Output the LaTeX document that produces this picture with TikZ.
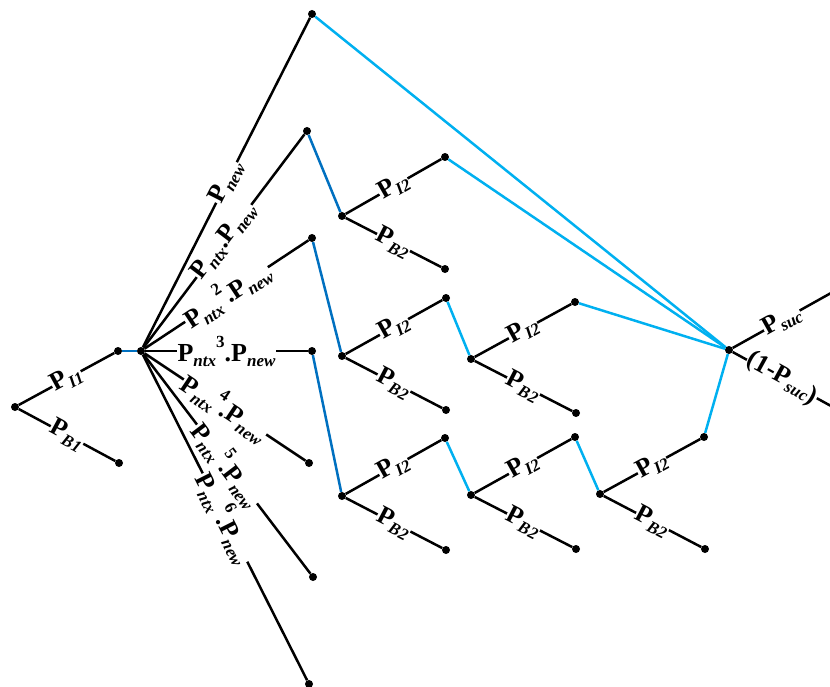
\documentclass[tikz,border=0pt]{standalone}
\usepackage{fontspec}
\setmainfont{Liberation Serif}
\definecolor{dblue}{HTML}{0070C0}
\definecolor{lblue}{HTML}{00B0F0}
\newcommand{\sbs}[1]{\raisebox{-5pt}{\fontsize{17}{18}\selectfont\bfseries\itshape #1}}
\newcommand{\sps}[1]{\raisebox{14pt}{\fontsize{17}{18}\selectfont\bfseries #1}}
\begin{document}
\begin{tikzpicture}[x=1pt,y=-1pt,
  dot/.style={circle,fill=black,inner sep=0pt,minimum size=8pt},
  edge/.style={line width=2.5pt,black},
  dk/.style={line width=2.5pt,dblue},
  lt/.style={line width=2.5pt,lblue},
  lab/.style={midway,sloped,fill=white,inner sep=0.5pt,font=\fontsize{26}{28}\selectfont\bfseries}]
\useasboundingbox (0,0) rectangle (830,687);
% nodes
\node[dot] (r) at (15,407) {};
\node[dot] (i1) at (118,351) {};
\node[dot] (b1) at (119,463) {};
\node[dot] (h) at (141,351) {};
\node[dot] (f0) at (312,14) {};
\node[dot] (f1) at (307,131) {};
\node[dot] (f2) at (312,238) {};
\node[dot] (f3) at (312,351) {};
\node[dot] (f4) at (309,463) {};
\node[dot] (f5) at (313,577) {};
\node[dot] (f6) at (309,684) {};
\node[dot] (a1) at (342,216) {};
\node[dot] (a1i) at (445,157) {};
\node[dot] (a1b) at (445,269) {};
\node[dot] (a2) at (342,356) {};
\node[dot] (a2i) at (446,298) {};
\node[dot] (a2b) at (446,410) {};
\node[dot] (a3) at (342,496) {};
\node[dot] (a3i) at (445,438) {};
\node[dot] (a3b) at (446,550) {};
\node[dot] (c2) at (471,359) {};
\node[dot] (c2i) at (575,302) {};
\node[dot] (c2b) at (576,413) {};
\node[dot] (c3) at (471,495) {};
\node[dot] (c3i) at (575,437) {};
\node[dot] (c3b) at (576,549) {};
\node[dot] (d3) at (600,494) {};
\node[dot] (d3i) at (704,437) {};
\node[dot] (d3b) at (705,549) {};
\node[dot] (s) at (729,350) {};
\coordinate (e1) at (831,293);
\coordinate (e2) at (831,406);
% blue links
\draw[dk] (i1) -- (h);
\draw[dk] (f1) -- (a1);
\draw[dk] (f2) -- (a2);
\draw[dk] (f3) -- (a3);
\draw[lt] (a2i) -- (c2);
\draw[lt] (a3i) -- (c3);
\draw[lt] (c3i) -- (d3);
\draw[lt] (d3i) -- (s);
\draw[lt] (f0) -- (s);
\draw[lt] (a1i) -- (s);
\draw[lt] (c2i) -- (s);
% black branches
\draw[edge] (r) -- node[lab]{P\sbs{I1}} (i1);
\draw[edge] (r) -- node[lab]{P\sbs{B1}} (b1);
\draw[edge] (h) -- node[lab]{P\sbs{new}} (f0);
\draw[edge] (h) -- node[lab]{P\sbs{ntx}.P\sbs{new}} (f1);
\draw[edge] (h) -- node[lab]{P\sbs{ntx}\sps{2}.P\sbs{new}} (f2);
\draw[edge] (h) -- node[lab]{P\sbs{ntx}\sps{3}.P\sbs{new}} (f3);
\draw[edge] (h) -- node[lab]{P\sbs{ntx}\sps{4}.P\sbs{new}} (f4);
\draw[edge] (h) -- node[lab]{P\sbs{ntx}\sps{5}.P\sbs{new}} (f5);
\draw[edge] (h) -- node[lab]{P\sbs{ntx}\sps{6}.P\sbs{new}} (f6);
\foreach \n in {a1,a2,a3,c2,c3,d3}{
  \draw[edge] (\n) -- node[lab]{P\sbs{I2}} (\n i);
  \draw[edge] (\n) -- node[lab]{P\sbs{B2}} (\n b);
}
\draw[edge] (s) -- node[lab]{P\sbs{suc}} (e1);
\draw[edge] (s) -- node[lab]{(1-P\sbs{suc}\raisebox{-4pt}{)}} (e2);
\end{tikzpicture}
\end{document}
